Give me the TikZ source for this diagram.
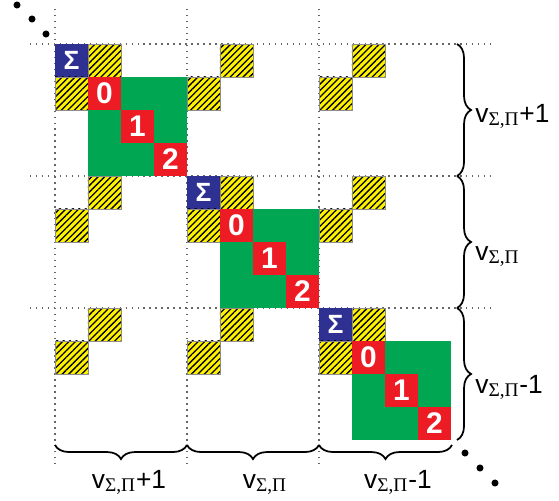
\documentclass[tikz,border=0pt]{standalone}
\usepackage{fontspec}
\setmainfont{Liberation Sans}
\newfontfamily\subserif{Liberation Serif}
\usetikzlibrary{patterns.meta,decorations.pathreplacing,positioning}
\definecolor{sigblue}{RGB}{46,49,146}
\definecolor{cellred}{RGB}{237,28,36}
\definecolor{cellgreen}{RGB}{0,166,81}
\definecolor{hyellow}{RGB}{255,242,0}
\newcommand{\vsp}{v\textsubscript{\subserif\fontsize{11}{12}\selectfont Σ,Π}}

\begin{document}
\begin{tikzpicture}[x=0.02cm,y=-0.02cm,
  gridline/.style={black!60,line width=0.6pt,dash pattern=on 0.8pt off 2.6pt},
  hatch/.style={preaction={fill=hyellow},pattern={Lines[angle=45,distance=2.6pt,line width=0.75pt]},pattern color=black,draw=black!45,line width=0.4pt},
  sigtext/.style={text=white,inner sep=0pt,font=\fontsize{15}{17}\bfseries\selectfont},
  digit/.style={text=white,inner sep=0pt,font=\fontsize{17}{19}\bfseries\selectfont},
  bracebig/.style={decorate,decoration={brace,amplitude=8pt},line width=1pt},
  sizelabel/.style={inner sep=0pt,font=\fontsize{15}{17}\selectfont}]
\useasboundingbox (0,0) rectangle (559,501);
% grid
\draw[gridline] (30,44) -- (490,44);
\draw[gridline] (30,176) -- (490,176);
\draw[gridline] (30,308) -- (490,308);
\draw[gridline] (55,9) -- (55,468);
\draw[gridline] (187,9) -- (187,468);
\draw[gridline] (319,9) -- (319,468);
% dots
\fill (17,5) circle (2pt);
\fill (32,19) circle (2pt);
\fill (46,34) circle (2pt);
\fill (465,453) circle (2pt);
\fill (480,468) circle (2pt);
\fill (495,483) circle (2pt);
% diagonal blocks
\begin{scope}[shift={(55,44)},x=0.66cm,y=-0.66cm]
\fill[sigblue] (0,0) rectangle (1,1);
\draw[hatch] (1,0) rectangle (2,1);
\draw[hatch] (0,1) rectangle (1,2);
\fill[cellgreen] (1,1) rectangle (4,4);
\fill[cellred] (1,1) rectangle (2,2);
\fill[cellred] (2,2) rectangle (3,3);
\fill[cellred] (3,3) rectangle (4,4);
\node[sigtext] (sig1) at (0.5,0.5) {Σ};
\node[digit] (zero1) at (1.5,1.5) {0};
\node[digit] (one1) at (2.5,2.5) {1};
\node[digit] (two1) at (3.5,3.5) {2};
\end{scope}
\begin{scope}[shift={(187,176)},x=0.66cm,y=-0.66cm]
\fill[sigblue] (0,0) rectangle (1,1);
\draw[hatch] (1,0) rectangle (2,1);
\draw[hatch] (0,1) rectangle (1,2);
\fill[cellgreen] (1,1) rectangle (4,4);
\fill[cellred] (1,1) rectangle (2,2);
\fill[cellred] (2,2) rectangle (3,3);
\fill[cellred] (3,3) rectangle (4,4);
\node[sigtext] (sig2) at (0.5,0.5) {Σ};
\node[digit] (zero2) at (1.5,1.5) {0};
\node[digit] (one2) at (2.5,2.5) {1};
\node[digit] (two2) at (3.5,3.5) {2};
\end{scope}
\begin{scope}[shift={(319,308)},x=0.66cm,y=-0.66cm]
\fill[sigblue] (0,0) rectangle (1,1);
\draw[hatch] (1,0) rectangle (2,1);
\draw[hatch] (0,1) rectangle (1,2);
\fill[cellgreen] (1,1) rectangle (4,4);
\fill[cellred] (1,1) rectangle (2,2);
\fill[cellred] (2,2) rectangle (3,3);
\fill[cellred] (3,3) rectangle (4,4);
\node[sigtext] (sig3) at (0.5,0.5) {Σ};
\node[digit] (zero3) at (1.5,1.5) {0};
\node[digit] (one3) at (2.5,2.5) {1};
\node[digit] (two3) at (3.5,3.5) {2};
\end{scope}
% off-diagonal blocks
\begin{scope}[shift={(187,44)},x=0.66cm,y=-0.66cm]
\draw[hatch] (1,0) rectangle (2,1);
\draw[hatch] (0,1) rectangle (1,2);
\end{scope}
\begin{scope}[shift={(319,44)},x=0.66cm,y=-0.66cm]
\draw[hatch] (1,0) rectangle (2,1);
\draw[hatch] (0,1) rectangle (1,2);
\end{scope}
\begin{scope}[shift={(55,176)},x=0.66cm,y=-0.66cm]
\draw[hatch] (1,0) rectangle (2,1);
\draw[hatch] (0,1) rectangle (1,2);
\end{scope}
\begin{scope}[shift={(319,176)},x=0.66cm,y=-0.66cm]
\draw[hatch] (1,0) rectangle (2,1);
\draw[hatch] (0,1) rectangle (1,2);
\end{scope}
\begin{scope}[shift={(55,308)},x=0.66cm,y=-0.66cm]
\draw[hatch] (1,0) rectangle (2,1);
\draw[hatch] (0,1) rectangle (1,2);
\end{scope}
\begin{scope}[shift={(187,308)},x=0.66cm,y=-0.66cm]
\draw[hatch] (1,0) rectangle (2,1);
\draw[hatch] (0,1) rectangle (1,2);
\end{scope}
% braces, right side
\coordinate (r0) at (457,44);
\coordinate (r1) at (457,176);
\coordinate (r2) at (457,308);
\coordinate (r3) at (457,440);
\draw[bracebig] (r0) -- (r1);
\draw[bracebig] (r1) -- (r2);
\draw[bracebig] (r2) -- (r3);
\node[sizelabel,anchor=base west] (rlab1) at (475,122) {\vsp+1};
\node[sizelabel,anchor=base west] (rlab2) at (475,260) {\vsp};
\node[sizelabel,anchor=base west] (rlab3) at (475,393) {\vsp-1};
% braces, bottom
\coordinate (c0) at (55,445);
\coordinate (c1) at (187,445);
\coordinate (c2) at (319,445);
\coordinate (c3) at (452,445);
\draw[bracebig] (c1) -- (c0);
\draw[bracebig] (c2) -- (c1);
\draw[bracebig] (c3) -- (c2);
\node[sizelabel,anchor=base] (clab1) at (129,488) {\vsp+1};
\node[sizelabel,anchor=base] (clab2) at (265,488) {\vsp};
\node[sizelabel,anchor=base] (clab3) at (398,488) {\vsp-1};
\end{tikzpicture}
\end{document}
